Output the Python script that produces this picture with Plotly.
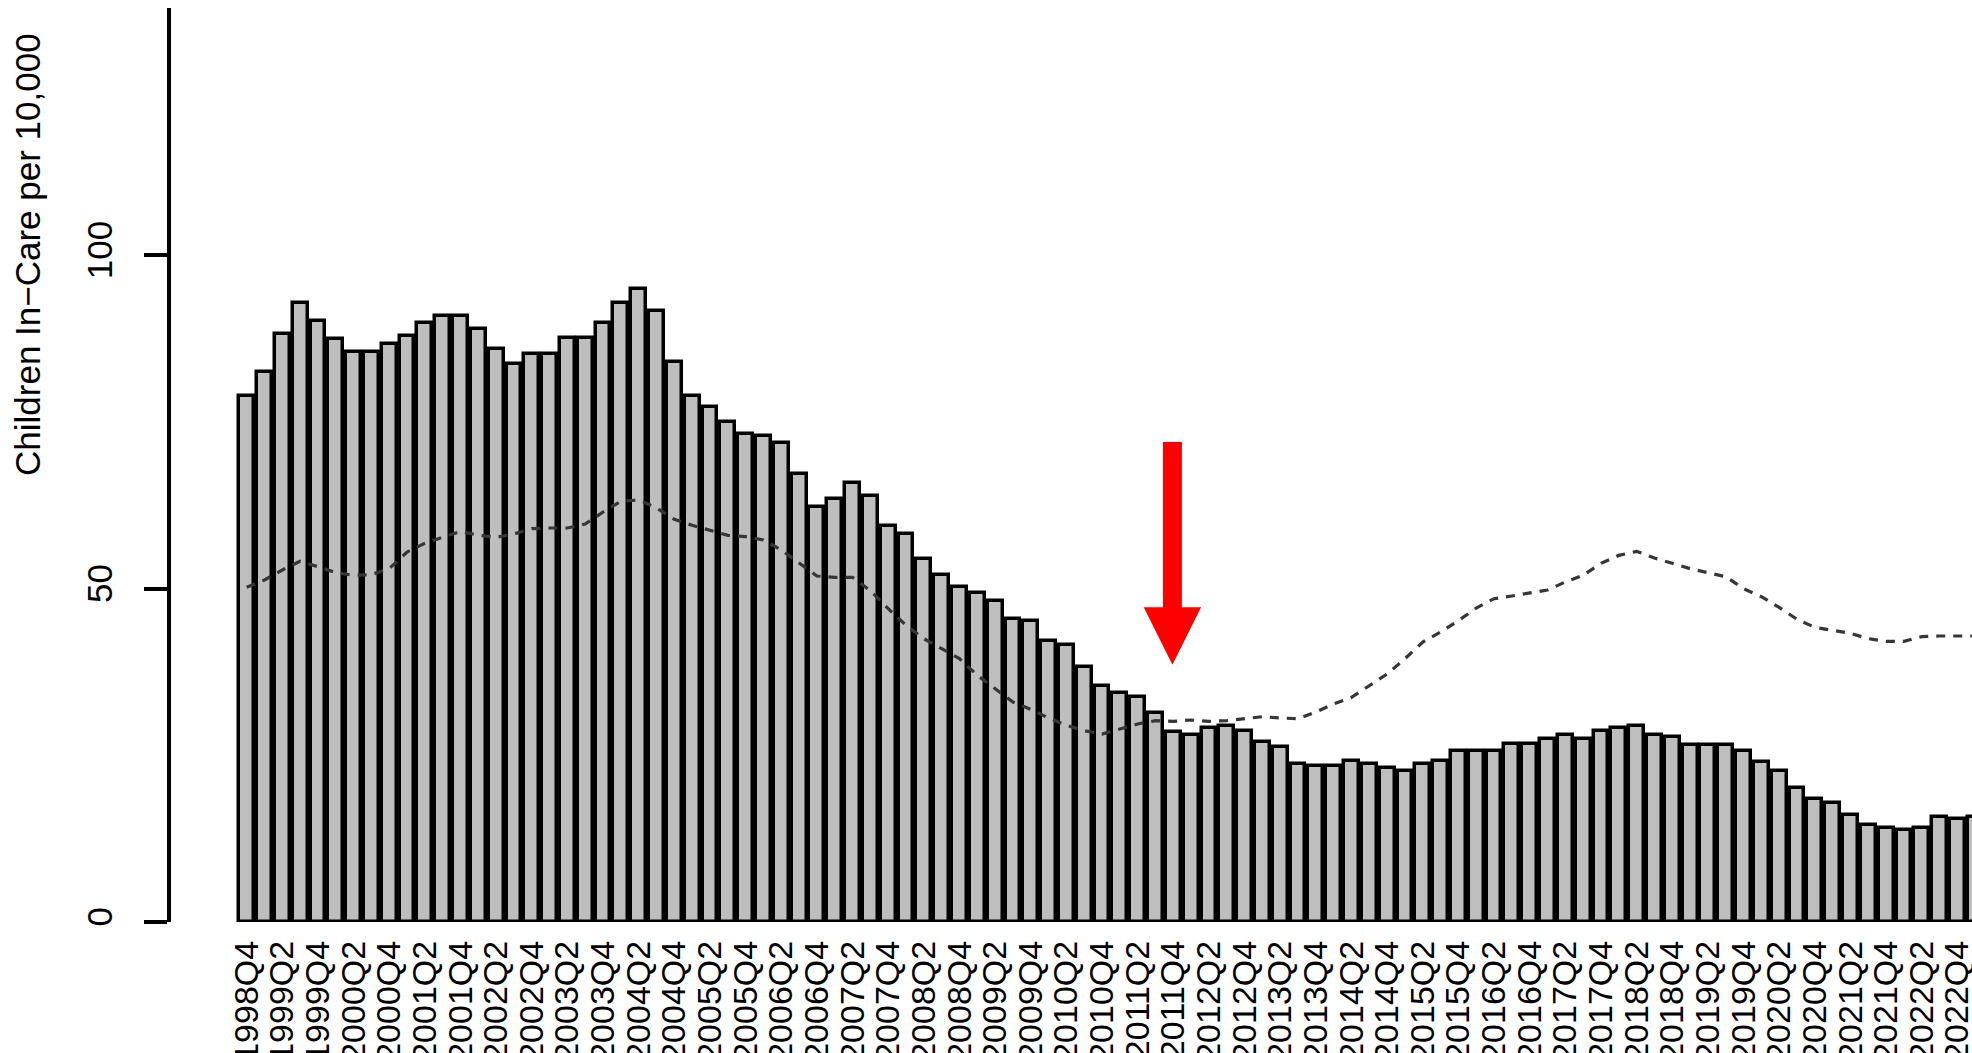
import plotly.graph_objects as go

# ---------------- data ----------------
all_q = [f"{y}Q{q}" for y in range(1998, 2024) for q in range(1, 5)]
quarters = all_q[all_q.index("1998Q4"): all_q.index("2023Q1") + 1]

in_care = [
    78.9, 82.5, 88.2, 92.9, 90.2, 87.5, 85.5, 85.5, 86.7, 87.9,
    89.9, 90.9, 90.9, 88.9, 86.0, 83.7, 85.2, 85.2, 87.6, 87.6,
    89.9, 92.9, 95.0, 91.7, 84.0, 78.9, 77.2, 75.0, 73.2, 72.9,
    71.8, 67.2, 62.2, 63.4, 65.8, 63.9, 59.4, 58.2, 54.5, 52.1,
    50.2, 49.3, 48.1, 45.4, 45.1, 42.1, 41.5, 38.3, 35.4, 34.4,
    33.7, 31.4, 28.5, 28.1, 29.1, 29.4, 28.7, 27.0, 26.3, 23.7,
    23.4, 23.4, 24.1, 23.7, 23.1, 22.7, 23.7, 24.1, 25.7, 25.7,
    25.7, 26.7, 26.7, 27.5, 28.1, 27.5, 28.7, 29.1, 29.4, 28.1,
    27.8, 26.6, 26.6, 26.6, 25.7, 24.0, 22.7, 20.1, 18.4, 17.8,
    16.0, 14.5, 14.1, 13.8, 14.1, 15.7, 15.5, 15.7,
]

comparison = [
    50.2, 51.3, 52.8, 54.1, 53.3, 52.4, 52.0, 52.1, 53.0, 55.5,
    56.8, 57.7, 58.6, 58.0, 57.7, 58.2, 59.0, 59.1, 59.1, 59.7,
    61.5, 63.1, 63.3, 62.1, 60.4, 59.5, 58.8, 58.0, 57.8, 57.3,
    55.8, 53.8, 51.9, 51.7, 51.7, 49.7, 47.0, 44.5, 42.5, 41.0,
    39.5, 37.0, 35.0, 33.0, 31.9, 30.6, 29.5, 28.7, 28.2, 29.0,
    29.7, 30.2, 30.1, 30.3, 30.1, 30.2, 30.5, 30.8, 30.6, 30.5,
    31.5, 32.7, 33.7, 35.5, 37.2, 39.5, 42.0, 43.5, 45.2, 47.1,
    48.5, 48.9, 49.4, 49.8, 51.0, 52.0, 53.8, 55.0, 55.6, 54.6,
    53.8, 53.0, 52.4, 51.8, 50.0, 48.8, 47.2, 45.4, 44.2, 43.7,
    43.3, 42.5, 42.1, 42.1, 42.8, 42.9, 42.9, 42.9,
]

y_ticks = [0, 50, 100]
y_title = "Children In\u2212Care per 10,000"

# arrow marker (annotation) position
ARROW_AT = "2011Q4"
ARROW_TOP, ARROW_NECK, ARROW_TIP = 72.0, 47.2, 38.6

# ---------------- figure ----------------
idx = list(range(len(quarters)))
FONT = "Liberation Sans, Arial, sans-serif"
FS = 35
FS_X = 34

fig = go.Figure()
fig.add_bar(
    x=idx, y=in_care, width=1 / 1.2,
    marker=dict(color="#BEBEBE", line=dict(color="black", width=3.5)),
    hoverinfo="skip", showlegend=False,
)
fig.add_scatter(
    x=idx, y=comparison, mode="lines",
    line=dict(color="#363636", width=3.2, dash="9px,8px"),
    hoverinfo="skip", showlegend=False,
)

cx = quarters.index(ARROW_AT) - 0.05
sw, hw = 0.533, 1.61
path = (f"M {cx-sw},{ARROW_TOP} L {cx+sw},{ARROW_TOP} L {cx+sw},{ARROW_NECK} "
        f"L {cx+hw},{ARROW_NECK} L {cx},{ARROW_TIP} L {cx-hw},{ARROW_NECK} "
        f"L {cx-sw},{ARROW_NECK} Z")
fig.add_shape(type="path", path=path, xref="x", yref="y",
              fillcolor="#FF0000", line=dict(width=0))

W, H = 1972, 1053
ML, MR, MT, MB = 171, 0, 8, 131
fig.update_layout(
    template="none",
    width=W, height=H, autosize=False,
    margin=dict(l=ML, r=MR, t=MT, b=MB, pad=0, autoexpand=False),
    paper_bgcolor="white", plot_bgcolor="white",
    font=dict(family=FONT, size=FS, color="black"),
    bargap=0,
    xaxis=dict(
        range=[-4.246, 96.82], automargin=False,
        tickvals=idx[::2], ticktext=quarters[::2],
        tickangle=-90, ticks="", showline=False, showgrid=False,
        zeroline=False, tickfont=dict(family=FONT, size=FS_X, color="black"),
        ticklabelstandoff=11, ticklabeloverflow="allow",
    ),
    yaxis=dict(
        range=[0, 137.1], automargin=False,
        tickvals=y_ticks, ticktext=[str(v) for v in y_ticks],
        ticks="outside", ticklen=23, tickwidth=3.5, tickcolor="black",
        showline=True, linewidth=3.5, linecolor="black",
        showgrid=False, zeroline=False, tickangle=-90,
        tickfont=dict(family=FONT, size=FS, color="black"),
        ticklabelstandoff=18,
    ),
    annotations=[dict(
        text=y_title, textangle=-90, showarrow=False,
        xref="paper", yref="paper",
        x=(27 - ML) / (W - ML - MR), y=(H - MB - 255) / (H - MB - MT),
        xanchor="center", yanchor="middle",
        font=dict(family=FONT, size=FS, color="black"),
    )],
)

fig.write_html(
    "out.html",
    config={"displayModeBar": False, "responsive": False},
    post_script="document.body.style.margin='0';document.body.style.overflow='hidden';",
)
